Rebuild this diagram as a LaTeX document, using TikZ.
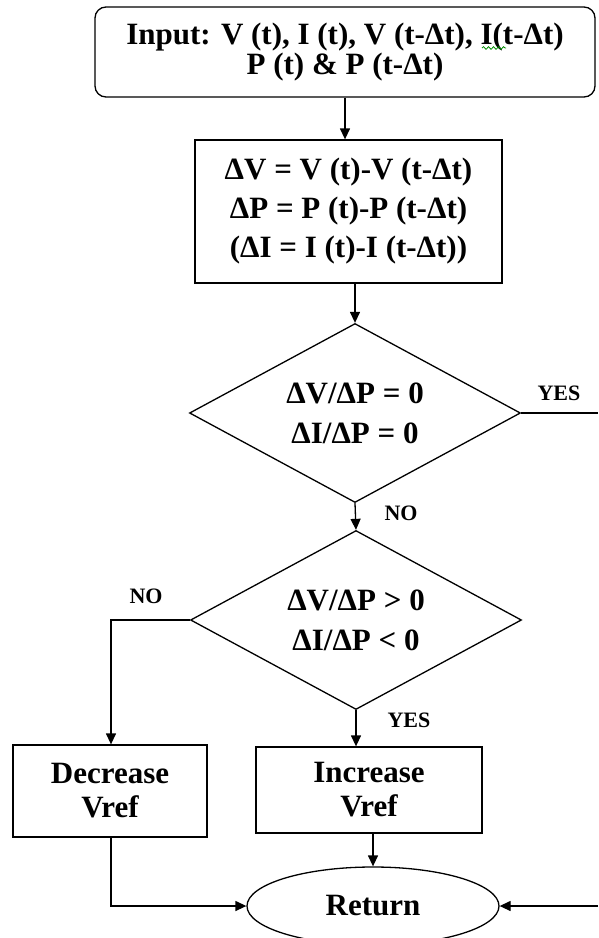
\documentclass[tikz,border=0pt]{standalone}
\usepackage{fontspec}
\setmainfont{Liberation Serif}
\usetikzlibrary{shapes.geometric,arrows.meta,decorations.pathmorphing}

\begin{document}
\begin{tikzpicture}[x=1pt,y=-1pt,
  every node/.style={inner sep=0pt, align=center, font=\bfseries\fontsize{31}{39}\selectfont},
  frame/.style={draw, line width=1.3pt},
  startbox/.style={frame, rectangle, rounded corners=11pt, minimum width=500pt, minimum height=90pt,
    font=\bfseries\fontsize{31}{30}\selectfont},
  procbox/.style={frame, rectangle},
  decision/.style={frame, diamond, shape aspect=1.85, minimum width=331pt, minimum height=179pt,
    font=\bfseries\fontsize{31}{40}\selectfont},
  terminal/.style={frame, ellipse, minimum width=252pt, minimum height=78pt},
  tag/.style={font=\bfseries\fontsize{22}{24}\selectfont},
  link/.style={line width=1.3pt},
  arr/.style={link, -{Triangle[length=11pt,width=10pt]}}
]
\useasboundingbox (0,0) rectangle (598,938);

% blocks
\node[startbox] (input) at (345,52)
  {Input: V (t), I (t), V (t-Δt), I(t-Δt)\\P (t) \& P (t-Δt)};
\node[procbox, minimum width=307pt, minimum height=143pt] (calc) at (348.5,211.5)
  {ΔV = V (t)-V (t-Δt)\\ΔP = P (t)-P (t-Δt)\\(ΔI = I (t)-I (t-Δt))};
\node[decision] (d1) at (355,413) {ΔV/ΔP = 0\\ΔI/ΔP = 0};
\node[decision] (d2) at (356,620) {ΔV/ΔP > 0\\ΔI/ΔP < 0};
\node[procbox, minimum width=194pt, minimum height=92pt,
  font=\bfseries\fontsize{31}{34}\selectfont] (dec) at (110,791) {Decrease\\Vref};
\node[procbox, minimum width=226pt, minimum height=86pt,
  font=\bfseries\fontsize{31}{34}\selectfont] (inc) at (369,790) {Increase\\Vref};
\node[terminal] (ret) at (373,906) {Return};

% branch labels
\node[tag] (yes1) at (559,393) {YES};
\node[tag] (no1) at (401,513) {NO};
\node[tag] (no2) at (146,596) {NO};
\node[tag] (yes2) at (409,720) {YES};

% spell-check squiggle under the last I
\draw[green!55!black, line width=0.8pt, decorate,
  decoration={snake, amplitude=1.3pt, segment length=5pt}] (482,48) -- (506,48);

% connectors
\coordinate (yesout) at (598,413);
\coordinate (yesin) at (598,906);
\coordinate (nocorner) at (111,620);
\coordinate (deccorner) at (111,906);

\draw[arr] (input.south) -- (input.south |- calc.north);
\draw[arr] (d1.north |- calc.south) -- (d1.north);
\draw[arr] (d1.south) -- (d2.north);
\draw[link] (d1.east) -- (yesout);
\draw[arr] (d2.west) -- (nocorner) -- (nocorner |- dec.north);
\draw[arr] (d2.south) -- (d2.south |- inc.north);
\draw[arr] (ret.north |- inc.south) -- (ret.north);
\draw[arr] (nocorner |- dec.south) -- (deccorner) -- (ret.west);
\draw[arr] (yesin) -- (ret.east);
\end{tikzpicture}
\end{document}
